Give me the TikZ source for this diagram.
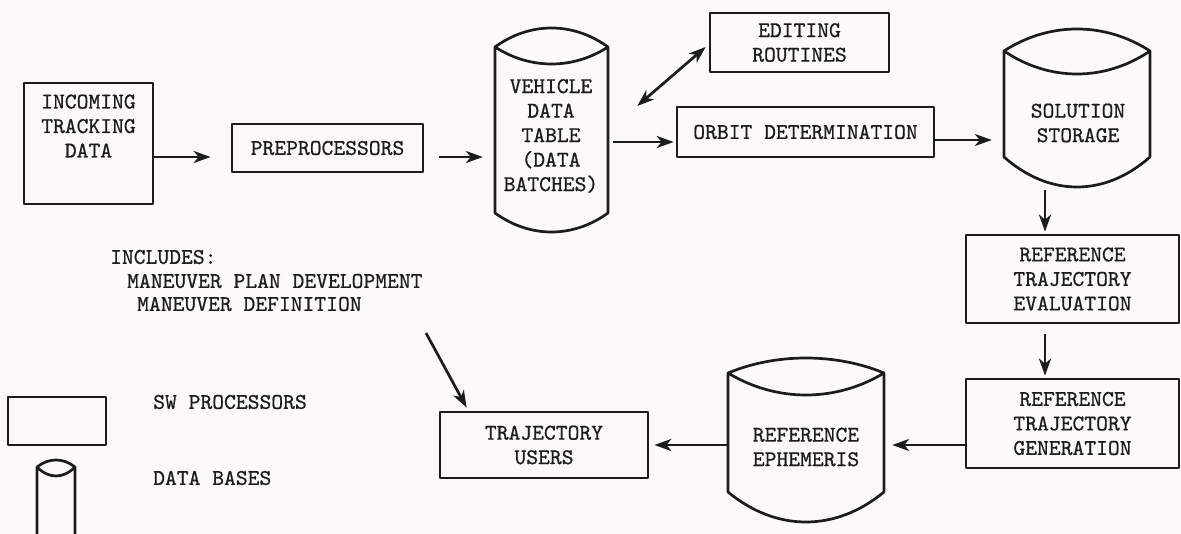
\documentclass[tikz,border=0pt]{standalone}
\usepackage{fontspec}
\usetikzlibrary{arrows.meta,calc}
\newfontfamily\typefont{lmmono10-regular.otf}[FakeBold=0.7]
\definecolor{paper}{RGB}{251,250,246}
\definecolor{ink}{RGB}{28,28,28}
\tikzset{
  line/.style={draw=ink,line width=2.7pt,line join=round},
  box/.style={line,rectangle,inner sep=0pt},
  txt/.style={text=ink,inner sep=0pt,align=center,font=\typefont\fontsize{22.5}{24.5}\selectfont},
  ltxt/.style={txt,anchor=west,align=left},
  tip/.tip={Stealth[length=17pt,width=12pt,inset=5pt]},
  arr/.style={draw=ink,line width=2.7pt,-tip},
  darr/.style={draw=ink,line width=2.7pt,tip-tip},
}
% database drum: name, left, right, top apex, rim corners, front rim, side end, bottom
\newcommand\drum[8]{%
  \pgfmathsetmacro\dW{#3-#2}%
  \pgfmathsetmacro\dA{#2+0.31*\dW}%
  \pgfmathsetmacro\dB{#3-0.31*\dW}%
  \pgfmathsetmacro\dBack{#5-4/3*(#5-#4)}%
  \pgfmathsetmacro\dFront{#5+4/3*(#6-#5)}%
  \pgfmathsetmacro\dBot{#7+4/3*(#8-#7)}%
  \node[inner sep=0pt,minimum width={(#3-#2)*1pt},minimum height={(#7-#5)*1pt}] (#1) at ({(#2+#3)/2},{(#5+#7)/2}) {};
  \draw[line] (#2,#5) .. controls (\dA,\dBack) and (\dB,\dBack) .. (#3,#5)
              .. controls (\dB,\dFront) and (\dA,\dFront) .. (#2,#5)
              -- (#2,#7) .. controls (\dA,\dBot) and (\dB,\dBot) .. (#3,#7) -- (#3,#5);
}
\begin{document}
\begin{tikzpicture}[x=1pt,y=-1pt]
\fill[paper] (0,0) rectangle (1181,534);
\useasboundingbox (0,0) rectangle (1181,534);

% processors
\node[box,minimum width=129pt,minimum height=121pt] (inc) at (88.5,143.5) {};
\node[txt] (inctxt) at (88.5,126) {INCOMING\\TRACKING\\DATA};
\node[box,minimum width=191pt,minimum height=48pt,txt] (pre) at (327.5,148) {PREPROCESSORS};
\node[box,minimum width=179pt,minimum height=59pt,txt] (edit) at (799.5,42.5) {EDITING\\ROUTINES};
\node[box,minimum width=257pt,minimum height=50pt,txt] (orb) at (805.5,132) {ORBIT DETERMINATION};
\node[box,minimum width=213pt,minimum height=88pt,txt] (eval) at (1072.5,279) {REFERENCE\\TRAJECTORY\\EVALUATION};
\node[box,minimum width=213pt,minimum height=89pt,txt] (gen) at (1072.5,423.5) {REFERENCE\\TRAJECTORY\\GENERATION};
\node[box,minimum width=208pt,minimum height=66pt,txt] (users) at (544,445) {TRAJECTORY\\USERS};

% data bases
\drum{veh}{495}{608}{28}{47}{64}{213}{232}
\node[txt] (vehtxt) at (551,136) {VEHICLE\\DATA\\TABLE\\(DATA\\BATCHES)};
\drum{sol}{1004}{1150}{29}{51}{74}{157}{187}
\node[txt] (soltxt) at (1078,123) {SOLUTION\\STORAGE};
\drum{eph}{728}{884}{358}{373}{395}{492}{522}
\node[txt] (ephtxt) at (806,447) {REFERENCE\\EPHEMERIS};

% flow
\draw[arr] ([yshift=-13.5pt]inc.east) -- ([xshift=-20pt,yshift=-9pt]pre.west);
\draw[arr] ([xshift=15pt,yshift=-9pt]pre.east) -- ([xshift=-12pt,yshift=-27pt]veh.west);
\draw[darr] ([xshift=29pt,yshift=24pt]veh.east) -- ([xshift=-3pt,yshift=-4.5pt]edit.west);
\draw[arr] ([xshift=5pt,yshift=-12pt]veh.east) -- ([xshift=-2pt,yshift=-10pt]orb.west);
\draw[arr] ([yshift=-8pt]orb.east) -- ([xshift=-12pt,yshift=-36pt]sol.west);
\draw[arr] ([xshift=-32pt,yshift=-33pt]sol.south) -- ([xshift=-27.5pt,yshift=2pt]eval.north);
\draw[arr] ([xshift=-27.5pt,yshift=-10pt]eval.south) -- ([xshift=-27.5pt,yshift=2pt]gen.north);
\draw[arr] ([yshift=-21.5pt]gen.west) -- ([xshift=8pt,yshift=-12.5pt]eph.east);
\draw[arr] ([yshift=-12.5pt]eph.west) -- ([xshift=5pt]users.east);

% note on maneuver planning
\node[ltxt] (inc1) at (110,257) {INCLUDES:};
\node[ltxt] (inc2) at (127,281) {MANEUVER PLAN DEVELOPMENT};
\node[ltxt] (inc3) at (137,304) {MANEUVER DEFINITION};
\coordinate (notefoot) at (426,333);
\draw[arr] (notefoot) -- ([xshift=28pt,yshift=3pt]users.north west);

% legend
\node[box,minimum width=98pt,minimum height=48pt] (keyproc) at (57,421) {};
\node[ltxt] (keyproctxt) at (153,402) {SW PROCESSORS};
\drum{keydb}{37}{75}{460}{467}{476}{560}{570}
\node[ltxt] (keydbtxt) at (153,478) {DATA BASES};
\end{tikzpicture}
\end{document}
